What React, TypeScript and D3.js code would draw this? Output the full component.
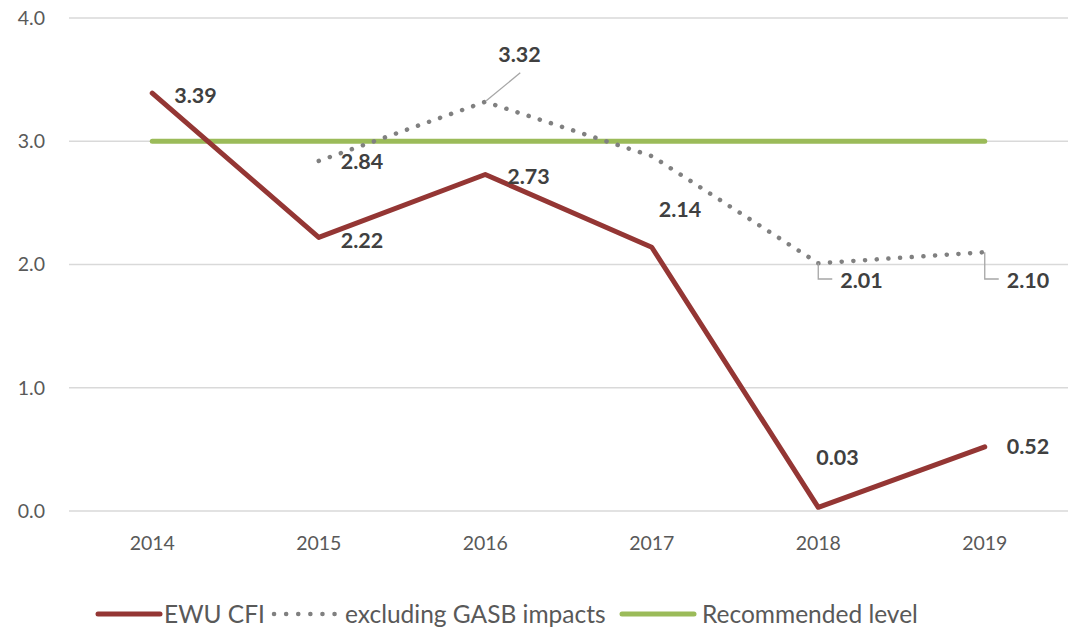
import React from 'react';
import * as d3 from 'd3';

const years = ['2014', '2015', '2016', '2017', '2018', '2019'];
const cfi = [3.39, 2.22, 2.73, 2.14, 0.03, 0.52];
const exGasb = [null, 2.84, 3.32, 2.88, 2.01, 2.1];
const recommended = [3, 3, 3, 3, 3, 3];
const yTicks = [0, 1, 2, 3, 4];

const W = 1070;
const H = 630;
const left = 69;
const right = 1068;
const top = 18;
const bottom = 511;

const font = 'Lato, "Open Sans", sans-serif';
const labelColor = '#404040';
const labelSize = 21.5;

const App = () => {
  const x = d3.scaleBand().domain(years).range([left, right]);
  const y = d3.scaleLinear().domain([0, 4]).range([bottom, top]);
  const cx = (yr: string) => (x(yr) as number) + x.bandwidth() / 2;

  const line = d3
    .line<number | null>()
    .defined(d => d !== null)
    .x((_, i) => cx(years[i]))
    .y(d => y(d as number));

  // label offsets for the solid series
  const cfiLabel = [
    { dx: 22, dy: 2 },
    { dx: 22, dy: 3 },
    { dx: 22, dy: 2 },
    { dx: 7, dy: -38 },
    { dx: -2, dy: -50 },
    { dx: 22, dy: 0 },
  ];

  const lbl = (key: string, tx: number, ty: number, v: number) => (
    <text key={key} x={tx} y={ty} dy="0.35em" fontFamily={font} fontWeight="bold" fontSize={labelSize} fill={labelColor}>
      {v.toFixed(2)}
    </text>
  );

  return (
    <svg width={W} height={H} style={{ position: 'absolute', left: 0, top: 0 }}>
      <rect width={W} height={H} fill="#fff" />
      {yTicks.map(t => (
        <g key={t}>
          <line x1={left} x2={right} y1={y(t)} y2={y(t)} stroke="#d9d9d9" strokeWidth={1.3} />
          <text x={45} y={y(t)} dy="0.35em" textAnchor="end" fontFamily={font} fontSize={19.5} fill="#595959">
            {t.toFixed(1)}
          </text>
        </g>
      ))}
      {years.map(yr => (
        <text key={yr} x={cx(yr)} y={543} dy="0.35em" textAnchor="middle" fontFamily={font} fontSize={19.5} fill="#595959">
          {yr}
        </text>
      ))}

      <path d={line(recommended) || ''} fill="none" stroke="#9bbb59" strokeWidth={5} strokeLinecap="round" />
      <path
        d={line(exGasb) || ''}
        fill="none"
        stroke="#808080"
        strokeWidth={4.5}
        strokeLinecap="round"
        strokeDasharray="0.1 11.6"
      />
      <path d={line(cfi) || ''} fill="none" stroke="#943634" strokeWidth={5} strokeLinecap="round" strokeLinejoin="round" />

      {cfi.map((v, i) => lbl('c' + i, cx(years[i]) + cfiLabel[i].dx, y(v) + cfiLabel[i].dy, v))}

      {/* labels for the dotted series */}
      {lbl('e1', cx('2015') + 22, y(exGasb[1] as number) + 1, exGasb[1] as number)}
      <line
        x1={cx('2016') + 1}
        y1={y(exGasb[2] as number) - 1}
        x2={cx('2016') + 35}
        y2={y(exGasb[2] as number) - 29}
        stroke="#a6a6a6"
        strokeWidth={1.3}
      />
      {lbl('e2', cx('2016') + 13, y(exGasb[2] as number) - 47, exGasb[2] as number)}
      {[4, 5].map(i => {
        const px = cx(years[i]);
        const py = y(exGasb[i] as number);
        return (
          <g key={'g' + i}>
            <polyline
              points={`${px},${py} ${px},${279} ${px + 14},${279}`}
              fill="none"
              stroke="#a6a6a6"
              strokeWidth={1.3}
            />
            {lbl('e' + i, px + 22, 280, exGasb[i] as number)}
          </g>
        );
      })}

      {/* legend */}
      <g fontFamily={font} fontSize={24.5} fill="#595959">
        <line x1={98} x2={160} y1={614} y2={614} stroke="#943634" strokeWidth={5} strokeLinecap="round" />
        <text x={164} y={614} dy="0.35em">EWU CFI</text>
        <line x1={274} x2={338} y1={614} y2={614} stroke="#808080" strokeWidth={4.5} strokeLinecap="round" strokeDasharray="0.1 12" />
        <text x={345} y={614} dy="0.35em">excluding GASB impacts</text>
        <line x1={622} x2={694} y1={614} y2={614} stroke="#9bbb59" strokeWidth={5} strokeLinecap="round" />
        <text x={702} y={614} dy="0.35em">Recommended level</text>
      </g>
    </svg>
  );
};

export default App;
